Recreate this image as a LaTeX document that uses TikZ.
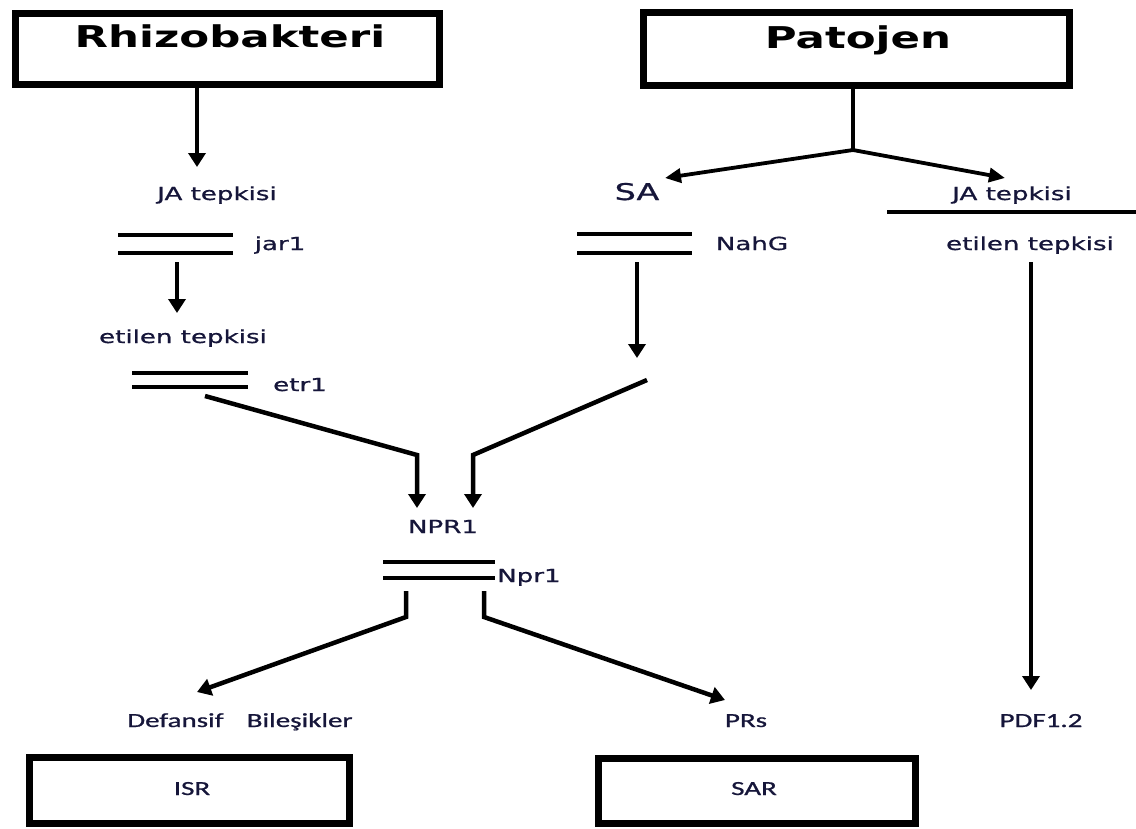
\documentclass[tikz,border=0pt]{standalone}
\usepackage{fontspec}
\usepackage{graphicx}
\usetikzlibrary{arrows.meta}
\newfontfamily\dvfont[FakeBold=0.8]{DejaVu Sans}
\newfontfamily\dvbfont{DejaVu Sans Bold}
\newfontfamily\cbfont[FakeBold=0.8]{Carlito}
\definecolor{txt}{RGB}{22,22,58}
\newcommand\myx[1]{\scalebox{1.45}[1]{#1}}
\begin{document}
\begin{tikzpicture}[x=1pt,y=-1pt,
  box/.style={draw,line width=7pt,inner sep=0pt},
  lbl/.style={anchor=base,inner sep=0pt,text=txt,font={\dvfont\fontsize{18}{20}\selectfont}},
  salbl/.style={anchor=base,inner sep=0pt,text=txt,font={\dvfont\fontsize{23}{26}\selectfont}},
  big/.style={anchor=base,inner sep=0pt,text=black,font={\dvbfont\fontsize{30}{34}\selectfont}},
  cal/.style={anchor=base,inner sep=0pt,text=txt,font={\cbfont\fontsize{20}{22}\selectfont}},
  bar/.style={line width=3.8pt},
  conn/.style={line width=4.5pt,-{Triangle[width=17pt,length=14pt]}},
  thinarr/.style={line width=3.8pt,-{Triangle[width=14pt,length=16pt]}},
  plain/.style={line width=4.5pt},
]
\useasboundingbox (0,0) rectangle (1136,828);

% top boxes
\node[box,minimum width=424pt,minimum height=71pt] (rb) at (227,48.5) {};
\node[big] (rbt) at (230,47) {\myx{Rhizobakteri}};
\node[box,minimum width=426pt,minimum height=73pt] (pb) at (856,48.5) {};
\node[big] (pbt) at (858,48) {\myx{Patojen}};

% left column
\node[lbl] (jal) at (217,200) {\myx{JA tepkisi}};
\coordinate (r1) at (197,87);
\coordinate (r2) at (197,167);
\draw[conn] (r1) -- (r2);

\draw[bar] (118,235) -- (233,235);
\draw[bar] (118,253) -- (233,253);
\node[lbl] (jar) at (280,250) {\myx{jar1}};

\coordinate (j1) at (177,262);
\coordinate (j2) at (177,313);
\draw[conn] (j1) -- (j2);
\node[lbl] (etl) at (183,343) {\myx{etilen tepkisi}};

\draw[bar] (132,373) -- (248,373);
\draw[bar] (132,387) -- (248,387);
\node[lbl] (etr) at (300,391) {\myx{etr1}};

\coordinate (e1) at (205,396);
\coordinate (e2) at (417,455);
\coordinate (e3) at (417,508);
\draw[conn] (e1) -- (e2) -- (e3);

% Patojen branches
\coordinate (p1) at (853,89);
\coordinate (p2) at (853,150);
\coordinate (psa) at (665,178);
\coordinate (pja) at (1005,178);
\draw[plain] (p1) -- (p2);
\draw[thinarr] (p2) -- (psa);
\draw[thinarr] (p2) -- (pja);

% SA column
\node[salbl] (sa) at (637,200) {\myx{SA}};
\draw[bar] (577,234) -- (692,234);
\draw[bar] (577,253) -- (692,253);
\node[lbl] (nahg) at (752,250) {\myx{NahG}};
\coordinate (s1) at (637,262);
\coordinate (s2) at (637,358);
\draw[conn] (s1) -- (s2);
\coordinate (s3) at (647,380);
\coordinate (s4) at (473,455);
\coordinate (s5) at (473,508);
\draw[conn] (s3) -- (s4) -- (s5);

% right column
\node[lbl] (jar2) at (1012,200) {\myx{JA tepkisi}};
\coordinate (h1) at (887,212);
\coordinate (h2) at (1136,212);
\draw[line width=3.2pt] (h1) -- (h2);
\node[lbl] (etr2) at (1030,250) {\myx{etilen tepkisi}};
\coordinate (q1) at (1031,262);
\coordinate (q2) at (1031,690);
\draw[conn] (q1) -- (q2);
\node[cal] (pdf) at (1041,727) {\myx{PDF1.2}};

% NPR1
\node[lbl] (npr) at (443,533) {\myx{NPR1}};
\draw[bar] (383,562) -- (495,562);
\draw[bar] (383,578) -- (495,578);
\node[lbl,anchor=base west] (npr1) at (497,582) {\myx{Npr1}};

\coordinate (l1) at (406,591);
\coordinate (l2) at (406,617);
\coordinate (l3) at (197,692);
\draw[conn] (l1) -- (l2) -- (l3);
\coordinate (m1) at (484,591);
\coordinate (m2) at (484,617);
\coordinate (m3) at (725,700);
\draw[conn] (m1) -- (m2) -- (m3);

\node[cal] (def) at (240,727) {\myx{Defansif\hspace{16pt}Bileşikler}};
\node[cal] (prs) at (746,727) {\myx{PRs}};

% bottom boxes
\node[box,minimum width=320pt,minimum height=66pt] (isr) at (189,790) {};
\node[cal] (isrt) at (192,795) {\myx{ISR}};
\node[box,minimum width=317pt,minimum height=65pt] (sar) at (756.5,790.5) {};
\node[cal] (sart) at (754,795) {\myx{SAR}};
\end{tikzpicture}
\end{document}
